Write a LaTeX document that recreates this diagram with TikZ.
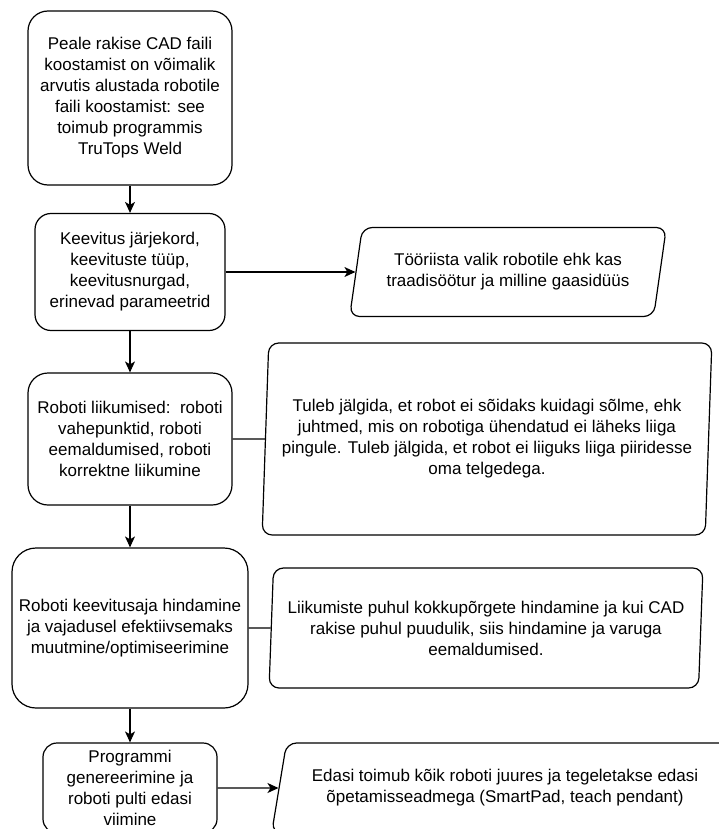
\documentclass[tikz,border=0pt]{standalone}
\usepackage{fontspec}
\setmainfont{Liberation Sans}
\usetikzlibrary{shapes.geometric,arrows.meta}

\tikzset{
  stepbox/.style={draw, rounded corners=18pt, line width=1.2pt, align=center,
    inner sep=0pt, font=\fontsize{17}{21}\selectfont},
  notebox/.style={draw, trapezium, trapezium stretches=true, rounded corners=10pt,
    line width=1.2pt, align=center, inner sep=0pt, font=\fontsize{17}{21}\selectfont},
  flow/.style={-{Stealth[length=11pt,width=10pt,inset=3pt]}, line width=1.2pt},
  link/.style={line width=1.2pt}
}

\begin{document}
\begin{tikzpicture}[x=1pt, y=-1pt]
  \useasboundingbox (0,0) rectangle (718,829);

  % Etapid
  \node[stepbox, rounded corners=20pt, minimum width=204pt, minimum height=174pt] (start) at (130,98)
    {Peale rakise CAD faili\\koostamist on võimalik\\arvutis alustada robotile\\faili koostamist: see\\toimub programmis\\TruTops Weld};
  \node[stepbox, rounded corners=16pt, minimum width=190pt, minimum height=117pt] (params) at (130,272)
    {Keevitus järjekord,\\keevituste tüüp,\\keevitusnurgad,\\erinevad parameetrid};
  \node[stepbox, rounded corners=20pt, minimum width=204pt, minimum height=132pt] (moves) at (130,439)
    {Roboti liikumised:\ \ roboti\\vahepunktid, roboti\\eemaldumised, roboti\\korrektne liikumine};
  \node[stepbox, rounded corners=24pt, minimum width=236pt, minimum height=160pt] (timing) at (130,628)
    {Roboti keevitusaja hindamine\\ja vajadusel efektiivsemaks\\muutmine/optimiseerimine};
  \node[stepbox, rounded corners=14pt, minimum width=174pt, minimum height=90pt] (output) at (130,788)
    {Programmi\\genereerimine ja\\roboti pulti edasi\\viimine};

  % Märkused
  \node[notebox, trapezium left angle=74, trapezium right angle=106,
    minimum width=317pt, minimum height=89pt] (tool) at (508,272)
    {Tööriista valik robotile ehk kas\\traadisöötur ja milline gaasidüüs};
  \node[notebox, trapezium left angle=85.5, trapezium right angle=94.5,
    minimum width=450pt, minimum height=192pt] (movenote) at (487,439)
    {Tuleb jälgida, et robot ei sõidaks kuidagi sõlme, ehk\\juhtmed, mis on robotiga ühendatud ei läheks liiga\\pingule. Tuleb jälgida, et robot ei liiguks liiga piiridesse\\oma telgedega.};
  \node[notebox, trapezium left angle=85.7, trapezium right angle=94.3,
    minimum width=436pt, minimum height=120pt] (collnote) at (486,628)
    {Liikumiste puhul kokkupõrgete hindamine ja kui CAD\\rakise puhul puudulik, siis hindamine ja varuga\\eemaldumised.};
  \node[notebox, trapezium left angle=70.4, trapezium right angle=109.6,
    minimum width=469pt, minimum height=90pt] (teach) at (505,788)
    {Edasi toimub kõik roboti juures ja tegeletakse edasi\\õpetamisseadmega (SmartPad, teach pendant)};

  % Ühendused
  \draw[flow] (start) -- (params);
  \draw[flow] (params) -- (tool);
  \draw[flow] (params) -- (moves);
  \draw[link] (moves) -- (movenote);
  \draw[flow] (moves) -- (timing);
  \draw[link] (timing) -- (collnote);
  \draw[flow] (timing) -- (output);
  \draw[flow] (output) -- (teach);
\end{tikzpicture}
\end{document}
